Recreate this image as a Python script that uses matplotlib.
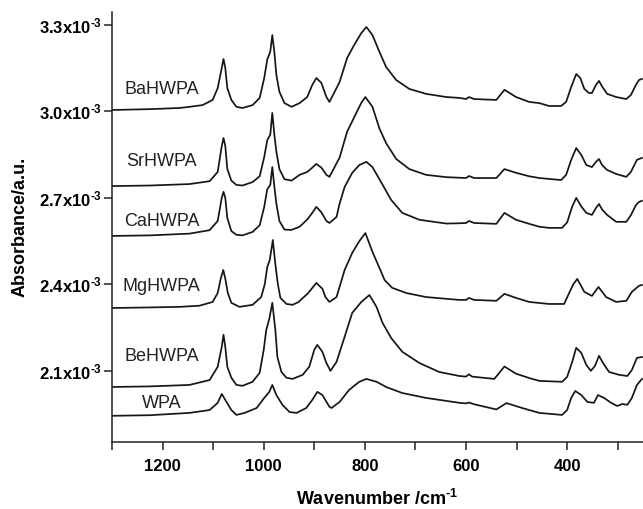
import numpy as np
import matplotlib
matplotlib.use("Agg")
import matplotlib.pyplot as plt
from matplotlib.ticker import FixedLocator

plt.rcParams["font.family"] = ["Liberation Sans", "DejaVu Sans"]
plt.rcParams["mathtext.fontset"] = "custom"
plt.rcParams["mathtext.rm"] = "Liberation Sans:bold"
plt.rcParams["mathtext.default"] = "rm"

# Spectra as (wavenumber cm^-1, absorbance in units of 1e-3)
ba_wn = [1300, 1225, 1166, 1147, 1121, 1101, 1091, 1083, 1079.5, 1076, 1072, 1064,
         1054, 1042, 1022, 1008, 999, 993, 987, 983, 979, 975, 969, 959, 945, 929,
         914, 904, 896, 886, 876, 870, 850, 835, 821, 807, 797, 785, 771, 758, 738,
         712, 679, 639, 613, 600, 594, 584, 540, 524, 501, 475, 455, 436, 412, 402,
         392, 382, 374, 366, 357, 351, 343, 337, 331, 321, 303, 283, 274, 264, 258,
         252]
ba_abs = [3.005, 3.008, 3.012, 3.016, 3.022, 3.040, 3.081, 3.151, 3.182, 3.151, 3.081,
          3.040, 3.016, 3.012, 3.022, 3.047, 3.116, 3.180, 3.208, 3.265, 3.206, 3.127,
          3.068, 3.029, 3.016, 3.029, 3.050, 3.092, 3.116, 3.099, 3.050, 3.033, 3.102,
          3.186, 3.231, 3.272, 3.293, 3.265, 3.206, 3.154, 3.109, 3.078, 3.061, 3.050,
          3.047, 3.043, 3.050, 3.043, 3.040, 3.075, 3.050, 3.033, 3.029, 3.019, 3.019,
          3.033, 3.085, 3.130, 3.116, 3.078, 3.064, 3.064, 3.092, 3.106, 3.087, 3.061,
          3.050, 3.043, 3.057, 3.092, 3.109, 3.113]

sr_wn = [1300, 1225, 1147, 1107, 1091, 1083, 1079.5, 1076, 1072, 1064, 1054, 1042,
         1022, 1008, 999, 993, 987, 983, 979, 975, 969, 959, 945, 929, 914, 904, 896,
         886, 876, 870, 850, 835, 821, 807, 799, 785, 771, 758, 738, 712, 679, 639,
         613, 600, 594, 584, 540, 524, 501, 475, 455, 412, 402, 392, 382, 372, 362,
         351, 343, 337, 331, 321, 303, 283, 274, 262, 252]
sr_abs = [2.741, 2.743, 2.748, 2.758, 2.790, 2.880, 2.908, 2.880, 2.800, 2.760, 2.745,
          2.743, 2.755, 2.775, 2.842, 2.900, 2.920, 2.995, 2.920, 2.860, 2.800, 2.765,
          2.760, 2.780, 2.790, 2.805, 2.818, 2.805, 2.780, 2.773, 2.840, 2.930, 2.980,
          3.030, 3.050, 3.016, 2.940, 2.890, 2.835, 2.800, 2.780, 2.772, 2.770, 2.769,
          2.776, 2.769, 2.769, 2.800, 2.787, 2.775, 2.769, 2.762, 2.780, 2.832, 2.873,
          2.849, 2.814, 2.807, 2.825, 2.835, 2.814, 2.797, 2.783, 2.773, 2.790, 2.832,
          2.839]

ca_wn = [1300, 1225, 1147, 1107, 1091, 1083, 1079.5, 1076, 1072, 1064, 1054, 1042,
         1022, 1008, 999, 993, 987, 983, 979, 975, 969, 959, 945, 929, 914, 904, 896,
         886, 876, 870, 856, 850, 840, 825, 811, 797, 785, 767, 748, 726, 692, 639,
         613, 600, 594, 584, 540, 524, 501, 475, 455, 436, 410, 400, 390, 382, 372,
         362, 351, 343, 337, 331, 321, 303, 283, 274, 264, 258, 252]
ca_abs = [2.568, 2.570, 2.576, 2.588, 2.620, 2.700, 2.721, 2.700, 2.630, 2.585, 2.572,
          2.570, 2.582, 2.605, 2.669, 2.730, 2.745, 2.807, 2.740, 2.680, 2.620, 2.590,
          2.589, 2.600, 2.625, 2.648, 2.669, 2.650, 2.620, 2.613, 2.634, 2.680, 2.738,
          2.787, 2.814, 2.825, 2.807, 2.752, 2.693, 2.648, 2.624, 2.611, 2.612, 2.613,
          2.620, 2.613, 2.610, 2.648, 2.624, 2.610, 2.600, 2.596, 2.596, 2.615, 2.670,
          2.700, 2.670, 2.648, 2.641, 2.665, 2.679, 2.660, 2.641, 2.617, 2.617, 2.640,
          2.675, 2.686, 2.690]

mg_wn = [1300, 1225, 1166, 1127, 1101, 1091, 1085, 1080, 1076, 1071, 1064, 1048, 1022,
         1005, 998, 993, 988, 982, 977, 972, 967, 955, 943, 931, 912, 896, 884, 878,
         870, 856, 840, 825, 811, 799, 785, 767, 761, 746, 718, 679, 613, 600, 594,
         584, 540, 524, 501, 475, 436, 406, 396, 388, 380, 366, 351, 338, 323, 303,
         283, 272, 258, 252]
mg_abs = [2.318, 2.320, 2.322, 2.326, 2.339, 2.370, 2.420, 2.450, 2.420, 2.370, 2.336,
          2.322, 2.329, 2.356, 2.400, 2.460, 2.485, 2.554, 2.470, 2.400, 2.353, 2.332,
          2.329, 2.339, 2.370, 2.405, 2.385, 2.356, 2.339, 2.356, 2.450, 2.509, 2.550,
          2.578, 2.513, 2.440, 2.415, 2.388, 2.370, 2.356, 2.346, 2.346, 2.353, 2.346,
          2.343, 2.367, 2.353, 2.339, 2.332, 2.332, 2.370, 2.400, 2.419, 2.374, 2.360,
          2.391, 2.356, 2.339, 2.343, 2.374, 2.395, 2.398]

be_wn = [1300, 1225, 1147, 1107, 1091, 1083, 1079.5, 1076, 1072, 1064, 1054, 1042,
         1022, 1008, 1000, 995, 989, 983, 977, 973, 965, 955, 943, 923, 910, 900, 894,
         884, 876, 868, 856, 840, 825, 807, 791, 777, 765, 748, 726, 692, 653, 613,
         600, 594, 588, 544, 524, 501, 475, 455, 410, 400, 390, 382, 372, 362, 353,
         345, 337, 329, 317, 297, 281, 272, 262, 252]
be_abs = [2.044, 2.046, 2.051, 2.068, 2.114, 2.183, 2.225, 2.183, 2.114, 2.076, 2.051,
          2.048, 2.062, 2.093, 2.173, 2.242, 2.280, 2.336, 2.242, 2.148, 2.096, 2.076,
          2.072, 2.086, 2.114, 2.173, 2.190, 2.166, 2.127, 2.100, 2.131, 2.218, 2.301,
          2.339, 2.363, 2.322, 2.266, 2.214, 2.166, 2.127, 2.096, 2.082, 2.080, 2.088,
          2.080, 2.072, 2.115, 2.090, 2.075, 2.065, 2.062, 2.079, 2.131, 2.180, 2.162,
          2.120, 2.100, 2.117, 2.152, 2.127, 2.096, 2.086, 2.082, 2.103, 2.145, 2.148]

wpa_wn = [1300, 1225, 1147, 1107, 1091, 1083, 1076, 1064, 1054, 1038, 1014, 999, 989,
          983, 975, 963, 949, 935, 916, 904, 894, 884, 870, 866, 850, 831, 811, 797,
          777, 758, 726, 679, 613, 600, 594, 584, 540, 520, 489, 455, 410, 400, 392,
          384, 372, 360, 347, 339, 327, 313, 301, 291, 281, 272, 262, 252]
wpa_abs = [1.944, 1.946, 1.954, 1.964, 1.989, 2.020, 1.999, 1.964, 1.947, 1.954, 1.971,
           2.006, 2.027, 2.051, 2.016, 1.982, 1.957, 1.954, 1.971, 1.999, 2.027, 2.016,
           1.975, 1.971, 1.992, 2.034, 2.062, 2.072, 2.062, 2.044, 2.023, 2.006, 1.989,
           1.987, 1.990, 1.984, 1.966, 1.988, 1.971, 1.954, 1.947, 1.964, 2.006, 2.030,
           2.016, 1.992, 1.989, 2.016, 2.006, 1.989, 1.978, 1.985, 1.982, 2.006, 2.051,
           2.072]

samples = ["BaHWPA", "SrHWPA", "CaHWPA", "MgHWPA", "BeHWPA", "WPA"]
spectra = [(ba_wn, ba_abs), (sr_wn, sr_abs), (ca_wn, ca_abs),
           (mg_wn, mg_abs), (be_wn, be_abs), (wpa_wn, wpa_abs)]

y_ticks = [2.1, 2.4, 2.7, 3.0, 3.3]

fig = plt.figure(figsize=(6.43, 5.09), dpi=100)
ax = fig.add_axes([0.1742, 0.1316, 0.8258, 0.8448])

for wn, ab in spectra:
    ax.plot(wn, np.array(ab) * 1e-3, color="#161616", lw=1.25,
            solid_joinstyle="round")

# sample names sit above each trace on the left
label_y = {"BaHWPA": 3.075, "SrHWPA": 2.825, "CaHWPA": 2.617,
           "MgHWPA": 2.391, "BeHWPA": 2.148, "WPA": 1.985}
for name in samples:
    ax.text(1202, label_y[name] * 1e-3, name, ha="center", va="center",
            fontsize=13, color="#222222")

ax.set_xlim(1300, 250)
ax.set_ylim(1.853e-3, 3.345e-3)

ax.xaxis.set_major_locator(FixedLocator([1200, 1000, 800, 600, 400]))
ax.xaxis.set_minor_locator(FixedLocator([1300, 1100, 900, 700, 500, 300]))
ax.yaxis.set_major_locator(FixedLocator([v * 1e-3 for v in y_ticks]))
ax.set_yticklabels([f"{v:.1f}x10$^{{\\text{{-3}}}}$" for v in y_ticks])

ax.tick_params(axis="both", which="both", direction="out", length=6, width=1.1,
               color="#222222")
ax.tick_params(axis="x", labelsize=12, pad=6)
ax.tick_params(axis="y", labelsize=12, pad=1)
for lab in ax.get_xticklabels() + ax.get_yticklabels():
    lab.set_fontweight("bold")

for side in ["top", "right"]:
    ax.spines[side].set_visible(False)
for side in ["left", "bottom"]:
    ax.spines[side].set_linewidth(1.1)
    ax.spines[side].set_color("#222222")

ax.set_xlabel("Wavenumber /cm$^{\\text{-1}}$", fontsize=13, fontweight="bold",
              labelpad=11)
ax.set_ylabel("Absorbance/a.u.", fontsize=13, fontweight="bold", labelpad=8)

fig.savefig("out.png", dpi=100)
